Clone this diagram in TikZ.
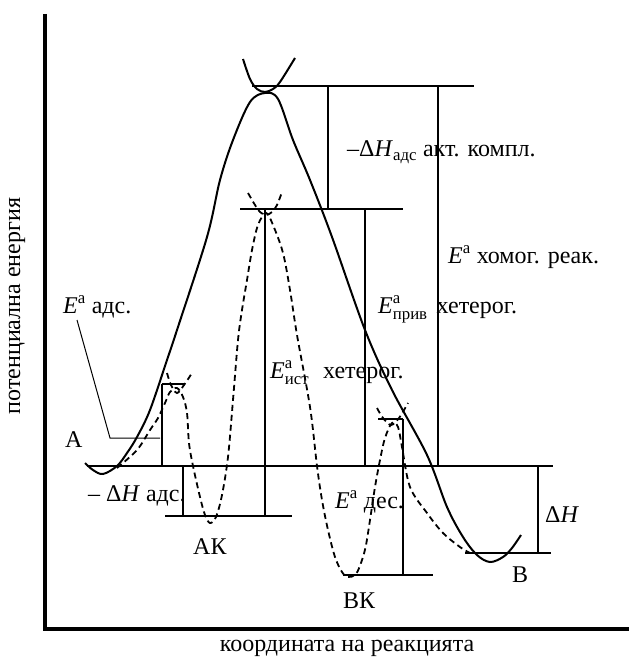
\documentclass[tikz,border=0pt]{standalone}
\usepackage{amsmath}
\usepackage{fontspec}
\setmainfont{Liberation Serif}
\usetikzlibrary{positioning}
\newcommand{\Ea}[1]{\textit{E}$^{\text{а}}_{\text{#1}}$}

\begin{document}
\begin{tikzpicture}[x=1pt,y=-1pt,
  axis/.style={line width=3.2pt},
  lvl/.style={line width=2.4pt},
  leader/.style={line width=1pt},
  route/.style={line width=2pt},
  alt/.style={line width=1.8pt,dash pattern=on 6pt off 4pt},
  every node/.style={font=\fontsize{24}{27}\selectfont,inner sep=0pt},
  lbl/.style={anchor=base west}]
\useasboundingbox (0,0) rectangle (629,658);
\coordinate (o) at (45,629);
\coordinate (ytop) at (45,14);
\coordinate (xend) at (629,629);
\draw[axis] (ytop) -- (o) -- (xend);
\node[rotate=90] (ylab) at (17,306) {потенциална енергия};
\node[anchor=base] (xlab) at (347,651) {координата на реакцията};
% energy levels
\draw[lvl] (252,86) -- (474,86);
\draw[lvl] (240,209) -- (403,209);
\draw[lvl] (87,466) -- (553,466);
\draw[lvl] (165,516) -- (292,516);
\draw[lvl] (343,575) -- (433,575);
\draw[lvl] (465,553) -- (551,553);
\draw[lvl] (162,384) -- (185,384);
\draw[lvl] (378,419) -- (403,419);
% gaps
\draw[lvl] (328,86) -- (328,209);
\draw[lvl] (438,86) -- (438,466);
\draw[lvl] (365,209) -- (365,466);
\draw[lvl] (265,209) -- (265,516);
\draw[lvl] (162,384) -- (162,466);
\draw[lvl] (183,466) -- (183,516);
\draw[lvl] (403,419) -- (403,575);
\draw[lvl] (538,466) -- (538,553);
\draw[leader] (77,320) -- (110,438) -- (160,438);
% homogeneous route
\draw[route] plot[smooth,tension=0.55] coordinates {(85,463) (93,470) (103,474) (117,466)
  (127,453) (137,437) (150,410) (167,360) (177,330) (207,237) (220,180) (233,140)
  (250,102) (265,93) (278,99) (293,140) (310,180) (332,237) (365,330) (392,390)
  (427,455) (447,507) (463,537) (477,555) (490,562) (503,557) (512,548) (521,535)};
\draw[route] plot[smooth,tension=0.55] coordinates {(243,59) (250,79) (257,89) (265,92)
  (273,89) (280,82) (295,58)};
% heterogeneous route
\draw[alt] plot[smooth,tension=0.55] coordinates {(117,468) (137,450) (150,430) (158,418)
  (165,403) (170,392) (177,388) (183,397) (187,413) (189,443) (193,466) (200,497)
  (205,515) (210,523) (216,517) (222,495) (228,457) (233,400) (238,340) (242,310)
  (247,280) (252,250) (258,225) (266,213) (273,225) (283,253) (290,290) (297,335)
  (310,407) (317,466) (322,500) (328,530) (335,557) (342,572) (348,577) (356,574)
  (362,560) (366,545) (370,520) (375,487) (380,460) (385,438) (392,423) (398,427)
  (402,447) (410,487) (427,513) (443,533) (460,547) (470,553)};
\draw[alt] plot[smooth,tension=0.55] coordinates {(167,373) (171,385) (177,393) (184,385) (192,373)};
\draw[alt] plot[smooth,tension=0.55] coordinates {(248,193) (255,205) (260,212) (266,215)
  (272,212) (277,205) (282,192)};
\draw[alt] plot[smooth,tension=0.55] coordinates {(377,408) (383,418) (391,425) (399,418) (408,403)};
% labels
\node[lbl] (eads) at (63,313) {\Ea{} адс.};
\node[lbl] (ptA) at (65,447) {А};
\node[lbl] (hads) at (88,501) {– Δ\textit{H} адс.};
\node[lbl] (ptAK) at (193,554) {АК};
\node[lbl] (eist) at (270,378) {\Ea{ист}\hspace{14pt}хетерог.};
\node[lbl] (epriv) at (378,313) {\Ea{прив}\hspace{9pt}хетерог.};
\node[lbl] (ehom) at (448,263) {\Ea{} хомог. реак.};
\node[lbl] (hakt) at (347,157) {–Δ\textit{H}$_{\text{адс}}$\ акт. компл.};
\node[lbl] (edes) at (335,508) {\Ea{} дес.};
\node[lbl] (dH) at (545,522) {Δ\textit{H}};
\node[lbl] (ptBK) at (343,608) {ВК};
\node[lbl] (ptB) at (512,582) {В};
\end{tikzpicture}
\end{document}
